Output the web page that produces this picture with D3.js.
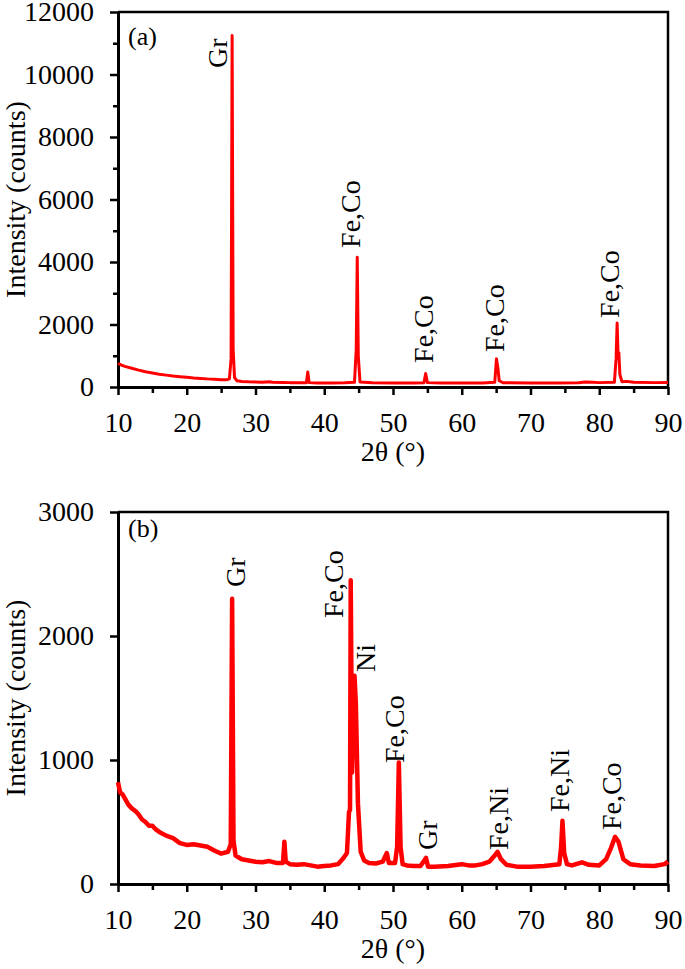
<!DOCTYPE html>
<html>
<head>
<meta charset="utf-8">
<script src="https://cdn.jsdelivr.net/npm/d3@7"></script>
<style>
  body { margin: 0; background: #fff; }
  svg text { font-family: "Liberation Serif", "Times New Roman", serif; fill: #000; }
</style>
</head>
<body>
<div id="chart"></div>
<script>
// pattern (a)
var thetaA = [10, 10.5, 11, 12, 13, 14, 15, 16, 17, 18, 19, 20, 21, 22, 23, 24, 25, 25.8, 26.2, 26.45, 26.6, 26.75, 26.95, 27.3, 28, 29, 30, 31, 32, 32.5, 34, 35, 36, 37.4, 37.6, 37.8, 39, 41, 43, 44.4, 44.65, 44.8, 44.95, 45.2, 47, 50, 53, 54.5, 54.75, 55, 57, 60, 63, 64.8, 65.05, 65.25, 65.45, 66, 70, 74, 77, 78, 79, 80, 82.2, 82.45, 82.6, 82.75, 82.85, 83, 83.3, 84, 85, 88, 90];
var countsA = [760, 700, 660, 600, 540, 490, 450, 410, 380, 350, 330, 310, 290, 275, 260, 250, 235, 230, 260, 900, 11250, 1200, 300, 200, 175, 165, 160, 155, 165, 150, 145, 140, 140, 135, 480, 140, 130, 130, 135, 150, 1200, 4150, 1000, 160, 135, 130, 130, 135, 430, 140, 130, 130, 130, 150, 900, 620, 200, 135, 130, 130, 135, 160, 155, 140, 150, 900, 2050, 900, 1100, 400, 170, 180, 150, 140, 145];

// pattern (b)
var thetaB = [10, 10.3, 10.7, 11, 11.5, 12, 12.5, 13, 13.5, 14, 14.5, 15, 15.5, 16, 17, 18, 19, 20, 21, 22, 23, 24, 25, 26, 26.4, 26.6, 26.8, 27.1, 28, 29, 30, 31, 32, 33, 34, 34.2, 34.4, 35, 36, 37, 38, 39, 40, 41, 42, 42.8, 43.3, 43.6, 43.75, 43.85, 44.05, 44.4, 44.6, 44.9, 45.3, 45.8, 46.5, 47.5, 48.5, 49.1, 49.4, 50.3, 50.6, 50.85, 51.1, 51.4, 52, 53, 54, 54.8, 55.1, 56, 58, 60, 61, 62, 63, 64, 64.8, 65.2, 65.7, 66.5, 68, 70, 72, 74.2, 74.45, 74.65, 74.9, 75.3, 76, 77.5, 78.5, 80, 81, 81.7, 82.3, 82.8, 83.5, 84.5, 86, 88, 89.5, 90];
var countsB = [820, 740, 720, 690, 640, 610, 590, 560, 520, 500, 470, 470, 440, 420, 390, 370, 330, 315, 320, 310, 300, 270, 245, 260, 320, 2300, 350, 230, 200, 190, 180, 175, 185, 170, 170, 340, 180, 160, 155, 160, 150, 140, 145, 150, 160, 210, 250, 580, 600, 2450, 900, 1680, 1450, 650, 260, 190, 170, 165, 180, 250, 170, 170, 300, 980, 300, 160, 150, 145, 145, 210, 140, 140, 145, 160, 150, 150, 160, 180, 230, 260, 200, 155, 140, 140, 145, 160, 300, 510, 250, 160, 150, 175, 155, 150, 200, 290, 380, 340, 200, 160, 150, 145, 160, 180];

// peak labels: text, 2theta at the text baseline, intensity where the text starts
var peakTextA = ["Gr", "Fe,Co", "Fe,Co", "Fe,Co", "Fe,Co"];
var peakPosA = [25.85, 45.2, 55.8, 66.15, 82.87];
var peakLevelA = [10210, 4450, 770, 1120, 2210];

var peakTextB = ["Gr", "Fe,Co", "Ni", "Fe,Co", "Gr", "Fe,Ni", "Fe,Ni", "Fe,Co"];
var peakPosB = [28.47, 42.73, 47.38, 51.6, 56.4, 66.7, 75.6, 83.16];
var peakLevelB = [2395, 2145, 1710, 976, 274, 274, 581, 435];

var xTicks = [10, 20, 30, 40, 50, 60, 70, 80, 90];
var yTicksA = [0, 2000, 4000, 6000, 8000, 10000, 12000];
var yTicksB = [0, 1000, 2000, 3000];

var W = 685, H = 969;
var svg = d3.select("#chart").append("svg")
    .attr("width", W)
    .attr("height", H);

function drawPanel(opt) {

    var x = d3.scaleLinear().domain([10, 90]).range([opt.left, opt.right]);
    var y = d3.scaleLinear().domain([0, opt.ymax]).range([opt.bottom, opt.top]);
    var g = svg.append("g");

    // frame top/right
    g.append("path")
        .attr("d", "M" + opt.left + "," + opt.top + "H" + opt.right + "V" + opt.bottom)
        .attr("fill", "none")
        .attr("stroke", "#000")
        .attr("stroke-width", 2.5);

    // minor ticks
    var minorX = d3.range(15, 90, 10);
    g.append("g")
        .attr("transform", "translate(0," + opt.bottom + ")")
        .call(d3.axisBottom(x).tickValues(minorX).tickSize(6).tickFormat(""))
        .call(a => a.select(".domain").remove())
        .selectAll("line").attr("stroke-width", 2.5);

    if (opt.minorY) {
        g.append("g")
            .attr("transform", "translate(" + opt.left + ",0)")
            .call(d3.axisLeft(y).tickValues(opt.minorY).tickSize(5).tickFormat(""))
            .call(a => a.select(".domain").remove())
            .selectAll("line").attr("stroke-width", 2.5);
    }

    var xa = g.append("g")
        .attr("transform", "translate(0," + opt.bottom + ")")
        .call(d3.axisBottom(x).tickValues(xTicks).tickSize(8).tickSizeOuter(0).tickPadding(17));
    var ya = g.append("g")
        .attr("transform", "translate(" + opt.left + ",0)")
        .call(d3.axisLeft(y).tickValues(opt.yTicks).tickSize(8).tickSizeOuter(0).tickPadding(16).tickFormat(d3.format("d")));

    [xa, ya].forEach(function (a) {
        a.attr("font-size", null).attr("font-family", null);
        a.select(".domain").attr("stroke-width", 3);
        a.selectAll(".tick line").attr("stroke-width", 2.5);
        a.selectAll(".tick text").style("font-size", "28px");
    });

    // trace
    var line = d3.line()
        .x(function (d, i) { return x(opt.theta[i]); })
        .y(function (d) { return y(d); });
    g.append("path")
        .datum(opt.counts)
        .attr("d", line)
        .attr("fill", "none")
        .attr("stroke", "#ff0000")
        .attr("stroke-width", opt.lw)
        .attr("stroke-linejoin", "round");

    // peak labels, read bottom to top
    opt.labels.forEach(function (t, i) {
        var px = x(opt.labelPos[i]), py = y(opt.labelLevel[i]);
        g.append("text")
            .attr("transform", "translate(" + px + "," + py + ") rotate(-90)")
            .style("font-size", "28px")
            .text(t);
    });

    g.append("text")
        .attr("x", opt.left + 10)
        .attr("y", opt.top + opt.nameDy)
        .style("font-size", "26px")
        .text(opt.name);

    g.append("text")
        .attr("x", (opt.left + opt.right) / 2)
        .attr("y", opt.bottom + 74)
        .attr("text-anchor", "middle")
        .style("font-size", "28px")
        .text("2θ (°)");

    g.append("text")
        .attr("transform", "translate(25," + (opt.top + opt.bottom) / 2 + ") rotate(-90)")
        .attr("text-anchor", "middle")
        .style("font-size", "28px")
        .text("Intensity (counts)");
}

drawPanel({
    left: 118, right: 668, top: 12, bottom: 387, ymax: 12000,
    yTicks: yTicksA, minorY: d3.range(1000, 12000, 2000),
    theta: thetaA, counts: countsA, lw: 3,
    labels: peakTextA, labelPos: peakPosA, labelLevel: peakLevelA,
    name: "(a)", nameDy: 33
});

drawPanel({
    left: 118, right: 668, top: 512, bottom: 884, ymax: 3000,
    yTicks: yTicksB, minorY: null,
    theta: thetaB, counts: countsB, lw: 4.5,
    labels: peakTextB, labelPos: peakPosB, labelLevel: peakLevelB,
    name: "(b)", nameDy: 25
});
</script>
</body>
</html>
